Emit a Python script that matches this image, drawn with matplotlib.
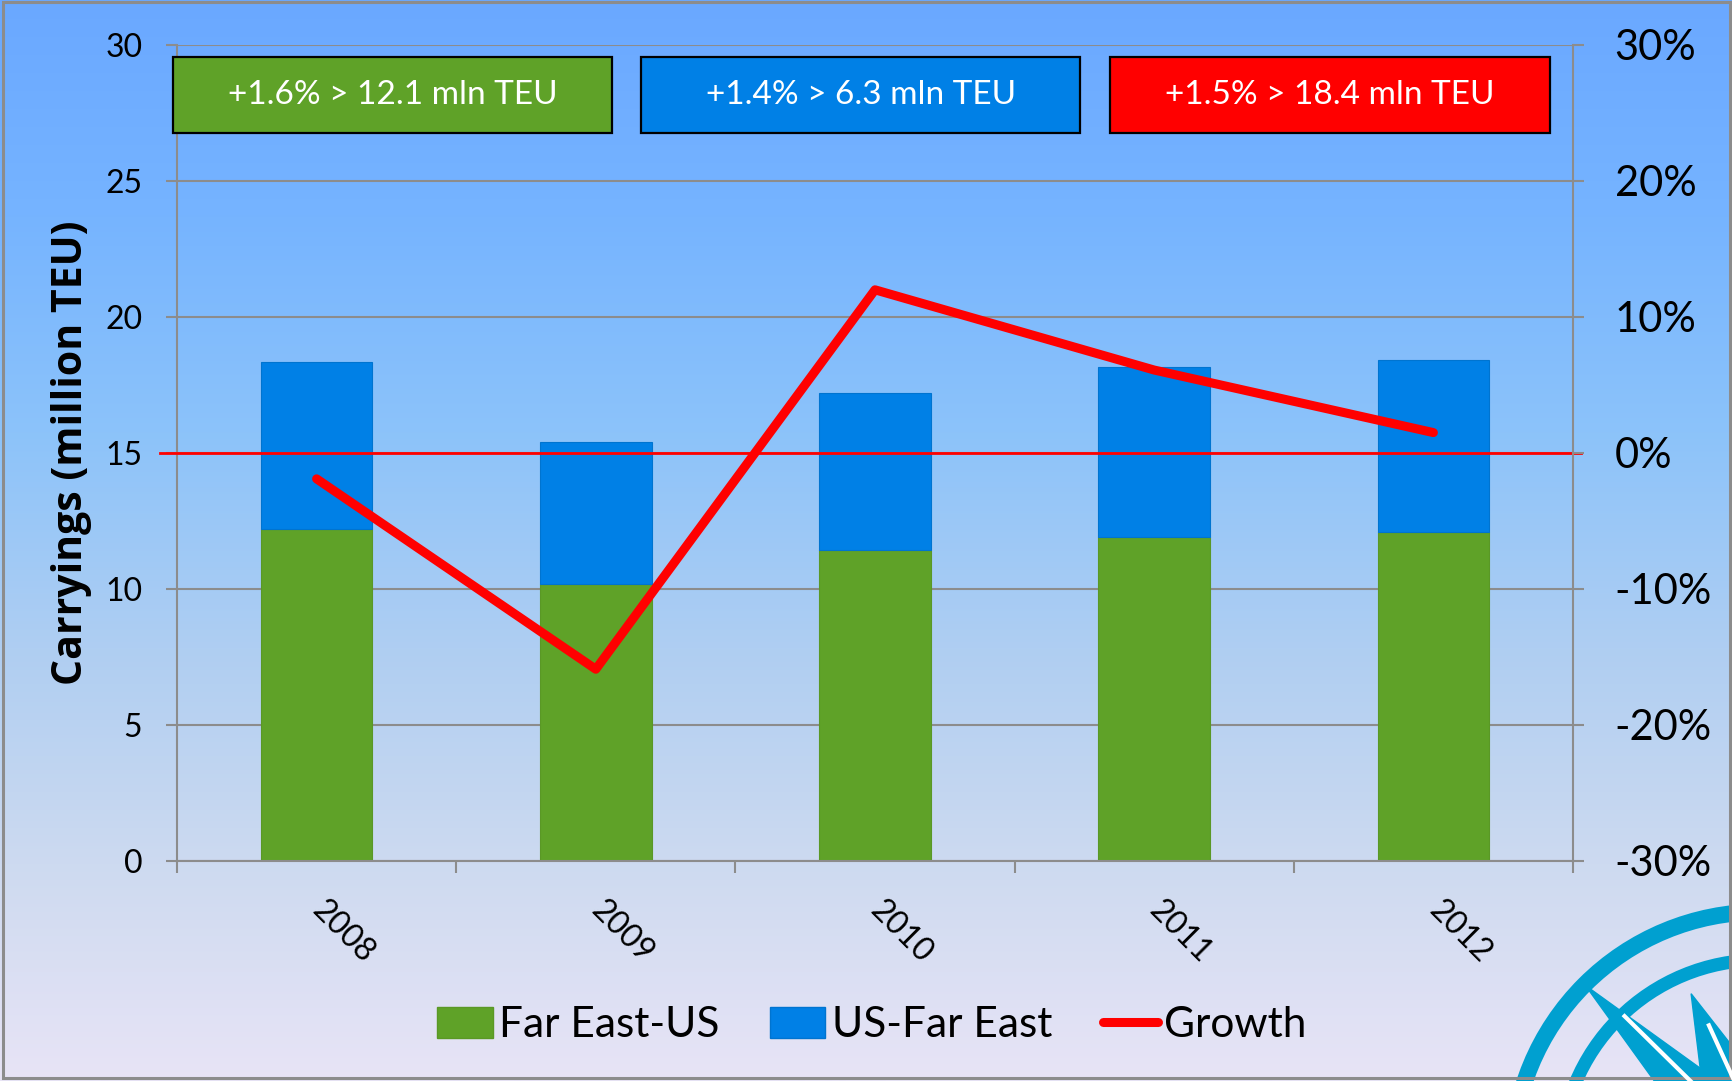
import numpy as np
import matplotlib
matplotlib.use("Agg")
import matplotlib.pyplot as plt
from matplotlib.patches import Rectangle, Patch, Circle, Polygon
from matplotlib.lines import Line2D
from matplotlib.ticker import FuncFormatter, FixedLocator

plt.rcParams['font.family'] = ['Lato', 'DejaVu Sans']

# data
years = ['2008', '2009', '2010', '2011', '2012']
far_east_us = [12.2, 10.2, 11.45, 11.9, 12.1]
us_far_east = [6.13, 5.2, 5.75, 6.27, 6.33]
growth = [-1.9, -15.9, 12.0, 6.1, 1.5]   # percent
box_texts = ['+1.6% > 12.1 mln TEU', '+1.4% > 6.3 mln TEU', '+1.5% > 18.4 mln TEU']

green = '#5fa228'
blue = '#0080e6'
red = '#ff0000'
grey = '#8c8c8c'

W, H = 1733, 1081
fig = plt.figure(figsize=(W / 100, H / 100), dpi=100)

# background gradient + border + logo
bg = fig.add_axes([0, 0, 1, 1], zorder=-10)
stops = np.array([[106, 168, 255], [118, 180, 255], [140, 195, 250],
                  [175, 206, 242], [205, 218, 240], [232, 228, 246]]) / 255
pos = np.linspace(0, 1, len(stops))
t = np.linspace(0, 1, 400)
grad = np.stack([np.interp(t, pos, stops[:, i]) for i in range(3)], axis=1)
bg.imshow(grad[:, None, :], aspect='auto', extent=[0, W, H, 0])
bg.set_xlim(0, W)
bg.set_ylim(H, 0)
bg.axis('off')

logo = '#00a0d0'
cx, cy = 1760, 1160
bg.add_patch(Circle((cx, cy), 248, fill=False, lw=12, color=logo))
bg.add_patch(Circle((cx, cy), 200, fill=False, lw=9.5, color=logo))
for k in range(16):
    ang = np.deg2rad(22.5 * k)
    r = 260 if k % 4 == 0 else (247 if k % 2 == 0 else 180)
    hw = 0.16 if k % 2 == 0 else 0.2
    tip = (cx + r * np.cos(ang), cy + r * np.sin(ang))
    b1 = (cx + 55 * np.cos(ang + hw * 4), cy + 55 * np.sin(ang + hw * 4))
    b2 = (cx + 55 * np.cos(ang - hw * 4), cy + 55 * np.sin(ang - hw * 4))
    bg.add_patch(Polygon([tip, b1, (cx, cy), b2], closed=True, color=logo))
    mid = (cx + 0.8 * r * np.cos(ang + 0.03), cy + 0.8 * r * np.sin(ang + 0.03))
    bg.plot([cx + 70 * np.cos(ang + 0.1), mid[0]], [cy + 70 * np.sin(ang + 0.1), mid[1]],
            color='white', lw=3)
bg.add_patch(Rectangle((3, 2), W - 6, H - 5, fill=False, ec=grey, lw=2.2))

# main chart
ax = fig.add_axes([177 / W, 1 - 861 / H, (1573 - 177) / W, (861 - 45) / H])
ax.patch.set_visible(False)
x = np.arange(len(years))
ax.bar(x, far_east_us, width=0.4, color=green, edgecolor='#5a9826', lw=0.8, zorder=2)
ax.bar(x, us_far_east, width=0.4, bottom=far_east_us, color=blue, edgecolor='#0074d0',
       lw=0.8, zorder=2)
ax.set_xlim(-0.5, 4.5)
ax.set_ylim(0, 30)
ax.set_yticks(range(0, 31, 5))
ax.grid(axis='y', color=grey, lw=1.5)
ax.set_axisbelow(True)
for s in ['top', 'right']:
    ax.spines[s].set_visible(False)
for s in ['left', 'bottom']:
    ax.spines[s].set_color(grey)
    ax.spines[s].set_linewidth(1.5)
ax.tick_params(axis='y', direction='out', length=8, width=1.5, color=grey,
               labelsize=23, pad=17)
ax.set_xticks(x)
ax.set_xticklabels(years, rotation=-45, rotation_mode='anchor', ha='left', va='center')
ax.tick_params(axis='x', which='major', length=0, labelsize=23, pad=32)
ax.xaxis.set_minor_locator(FixedLocator(np.arange(-0.5, 5, 1)))
ax.tick_params(axis='x', which='minor', direction='out', length=8.6, width=1.5, color=grey)
ax.set_ylabel('Carryings (million TEU)', family=['Open Sans', 'DejaVu Sans'],
              weight='bold', fontsize=29.5)
ax.yaxis.set_label_coords(-0.0609, 0.5)

# 0% reference line
ax.plot([-0.012, 1.006], [0.5, 0.5], transform=ax.transAxes, color=red, lw=2,
        clip_on=False, zorder=3)

ax2 = ax.twinx()
ax2.plot(x, np.array(growth) / 100, color=red, lw=6.5, solid_capstyle='round', zorder=4)
ax2.set_ylim(-0.3, 0.3)
ax2.set_yticks(np.arange(-0.3, 0.31, 0.1))
ax2.yaxis.set_major_formatter(FuncFormatter(lambda v, p: f"{round(v * 100):.0f}%"))
for s in ['top', 'left', 'bottom']:
    ax2.spines[s].set_visible(False)
ax2.spines['right'].set_color(grey)
ax2.spines['right'].set_linewidth(1.5)
ax2.tick_params(axis='y', direction='out', length=8, width=1.5, color=grey,
                labelsize=30, pad=22)

# summary boxes
boxes = [(-0.003, 0.3116, green), (0.3327, 0.647, blue), (0.6686, 0.9835, red)]
for (x0, x1, c), txt in zip(boxes, box_texts):
    ax2.add_patch(Rectangle((x0, 26.76 / 30), x1 - x0, (29.55 - 26.76) / 30,
                            transform=ax.transAxes, fc=c, ec='black', lw=1.6,
                            clip_on=False, zorder=5))
    ax2.text((x0 + x1) / 2, (29.55 + 26.76) / 60, txt, transform=ax.transAxes,
             ha='center', va='center', color='white', fontsize=24, zorder=6)

handles = [Patch(fc=green, ec='#5a9826'), Patch(fc=blue, ec='#0074d0'),
           Line2D([], [], color=red, lw=6.5, solid_capstyle='round')]
fig.legend(handles, ['Far East-US', 'US-Far East', 'Growth'], loc='center',
           bbox_to_anchor=(872 / W, 1 - 1025 / H), ncol=3, frameon=False, fontsize=30.5,
           handlelength=1.3, handleheight=0.75, handletextpad=0.15, columnspacing=1.2)

fig.savefig('out.png', dpi=100)
